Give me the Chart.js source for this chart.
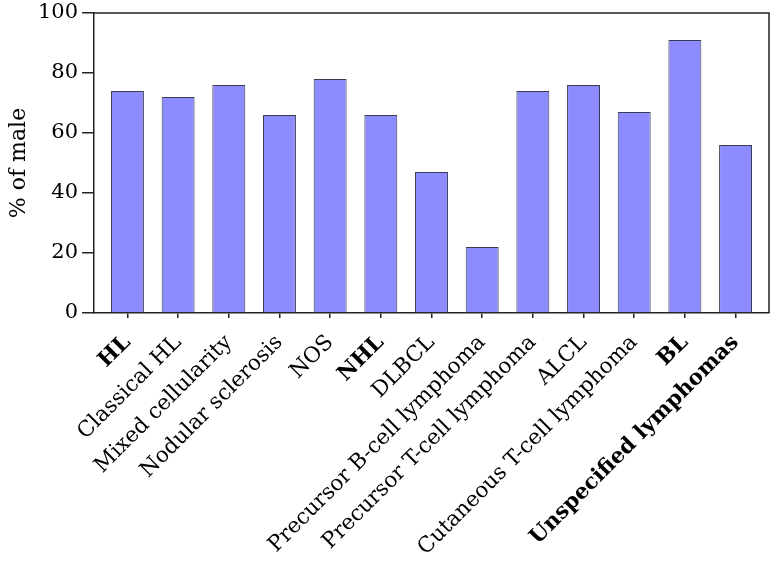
<!DOCTYPE html>
<html>
<head>
<meta charset="utf-8">
<script src="https://cdn.jsdelivr.net/npm/chart.js@4/dist/chart.umd.min.js"></script>
<style>
  html, body { margin: 0; padding: 0; background: #ffffff; }
  #wrap { width: 774px; height: 564px; }
</style>
</head>
<body>
<div id="wrap"><canvas id="c" width="774" height="564"></canvas></div>
<script>
const categories = [
  'HL', 'Classical HL', 'Mixed cellularity', 'Nodular sclerosis', 'NOS',
  'NHL', 'DLBCL', 'Precursor B-cell lymphoma', 'Precursor T-cell lymphoma',
  'ALCL', 'Cutaneous T-cell lymphoma', 'BL', 'Unspecified lymphomas'
];
const maleShare = [74, 72, 76, 66, 78, 66, 47, 22, 74, 76, 67, 91, 56];
const boldCategories = ['HL', 'NHL', 'BL', 'Unspecified lymphomas'];
const yTicks = [0, 20, 40, 60, 80, 100];
const yTitle = '% of male';

const FONT = "'DejaVu Serif', 'Liberation Serif', serif";

const framePlugin = {
  id: 'frame',
  afterDraw(chart) {
    const a = chart.chartArea, ctx = chart.ctx;
    ctx.save();
    ctx.strokeStyle = '#222222';
    ctx.lineWidth = 1.5;
    ctx.beginPath();
    ctx.moveTo(a.left, a.top);
    ctx.lineTo(a.right, a.top);
    ctx.lineTo(a.right, a.bottom);
    ctx.stroke();
    ctx.restore();
  }
};

const isCat = v => Number.isInteger(v) && categories[v] !== undefined;

new Chart(document.getElementById('c'), {
  type: 'bar',
  data: {
    datasets: [{
      data: categories.map((c, i) => ({ x: i, y: maleShare[i] })),
      backgroundColor: '#8c8cff',
      borderColor: '#3c3c50',
      borderWidth: 1,
      barPercentage: 0.65,
      categoryPercentage: 1
    }]
  },
  options: {
    responsive: false,
    animation: false,
    layout: { padding: { top: 13, right: 5, left: 0, bottom: 0 } },
    plugins: { legend: { display: false }, tooltip: { enabled: false } },
    scales: {
      x: {
        type: 'linear',
        min: -0.66,
        max: 12.66,
        offset: false,
        grid: {
          display: true, drawOnChartArea: false, offset: false, tickLength: 5, lineWidth: 1.5,
          color: ctx => (ctx.tick && isCat(ctx.tick.value)) ? '#222222' : 'rgba(0,0,0,0)'
        },
        border: { display: true, color: '#222222', width: 1.5 },
        ticks: {
          stepSize: 1,
          includeBounds: false,
          autoSkip: false,
          minRotation: 45,
          maxRotation: 45,
          padding: 12,
          color: '#000000',
          callback: v => isCat(v) ? categories[v] : '',
          font: ctx => ({
            family: FONT,
            size: 21.5,
            weight: (ctx.tick && boldCategories.includes(categories[ctx.tick.value])) ? 'bold' : 'normal'
          })
        },
        afterFit: s => { s.height = 251; s.paddingLeft = 0; s.paddingRight = 0; }
      },
      y: {
        min: 0,
        max: 100,
        afterBuildTicks: s => { s.ticks = yTicks.map(v => ({ value: v })); },
        grid: { display: true, drawOnChartArea: false, tickLength: 12, color: '#222222', lineWidth: 1.5 },
        border: { display: true, color: '#222222', width: 1.5 },
        ticks: { color: '#000000', padding: 4, font: { family: FONT, size: 21 } },
        title: { display: true, text: yTitle, color: '#000000', font: { family: FONT, size: 22 }, padding: { top: 6, bottom: 4 } },
        afterFit: s => { s.width = 94; s.paddingTop = 0; s.paddingBottom = 0; }
      }
    }
  },
  plugins: [framePlugin]
});
</script>
</body>
</html>
